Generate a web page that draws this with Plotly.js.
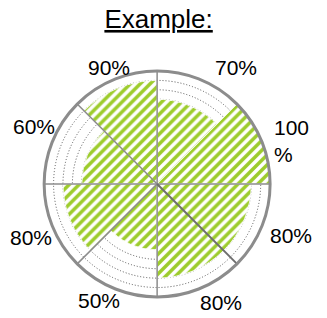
<!DOCTYPE html>
<html>
<head>
<meta charset="utf-8">
<script src="https://cdn.plot.ly/plotly-3.0.1.min.js"></script>
<style>html,body{margin:0;padding:0;background:#fff;}#chart{width:327px;height:318px;}</style>
</head>
<body>
<div id="chart"></div>
<script>
// Sector centres (degrees, counter-clockwise from east)
const sectorAngles = [22.5, 67.5, 112.5, 157.5, 202.5, 247.5, 292.5, 337.5];
// Values (%)
const values = [100, 70, 90, 60, 80, 50, 80, 80];
// Labels around the chart
const labels = ["100<br>%", "70%", "90%", "60%", "80%", "50%", "80%", "80%"];
// Spoke angles: drawn under the bars / over the bars
const spokesUnder = [135, 225];
const spokesOver = [0, 90, 180, 270, 315];
const gridValues = [60, 70, 80, 90];
const rMin = -20, rMax = 100;

// label placement (layout only), pixel centres in the 327x318 page
const labelPos = [[291, 141], [236, 67], [109, 67], [34, 126], [31, 238], [99, 300], [221, 302], [291, 236]];
const W = 327, H = 318;

function spoke(a) {
  return {
    type: 'scatterpolar',
    mode: 'lines',
    theta: [a, a],
    r: [rMin, rMax],
    line: {color: a === 315 ? '#6e6e6e' : '#8c8c8c', width: a === 315 ? 2 : 1.5},
    hoverinfo: 'none',
    showlegend: false
  };
}

const traces = [];
spokesUnder.forEach(a => traces.push(spoke(a)));
traces.push({
  type: 'barpolar',
  theta: sectorAngles,
  r: values.map(v => v - rMin),
  base: rMin,
  width: 45,
  marker: {
    color: '#ffffff',
    line: {color: '#ffffff', width: 0.8},
    pattern: {shape: '/', fgcolor: '#9dcc2c', bgcolor: '#ffffff', size: 7, solidity: 0.5}
  },
  hoverinfo: 'none',
  showlegend: false
});
spokesOver.forEach(a => traces.push(spoke(a)));

const annotations = labels.map((t, i) => ({
  text: t,
  xref: 'paper', yref: 'paper',
  x: labelPos[i][0] / W, y: 1 - labelPos[i][1] / H,
  xanchor: 'center', yanchor: 'middle',
  align: 'left',
  showarrow: false,
  font: {family: 'Liberation Sans, Arial, sans-serif', size: 21, color: '#000'}
}));

const layout = {
  width: W, height: H,
  margin: {l: 0, r: 0, t: 0, b: 0},
  paper_bgcolor: '#ffffff',
  showlegend: false,
  title: {
    text: '<u>Example:</u>',
    font: {family: 'Liberation Sans, Arial, sans-serif', size: 26, color: '#000'},
    x: 0.485, xanchor: 'center', y: 0.912, yanchor: 'bottom'
  },
  annotations: annotations,
  polar: {
    domain: {x: [0.135, 0.826], y: [0.066, 0.777]},
    bgcolor: '#ffffff',
    radialaxis: {
      range: [rMin, rMax],
      tickvals: gridValues,
      showticklabels: false,
      ticks: '',
      showline: false,
      gridcolor: '#555555',
      gridwidth: 1,
      griddash: '1px,2px',
      layer: 'below traces'
    },
    angularaxis: {
      rotation: 0,
      direction: 'counterclockwise',
      tickvals: sectorAngles,
      showticklabels: false,
      ticks: '',
      showgrid: false,
      showline: true,
      linecolor: '#8c8c8c',
      linewidth: 3,
      layer: 'above traces'
    }
  }
};

Plotly.newPlot('chart', traces, layout, {displayModeBar: false, staticPlot: true});
</script>
</body>
</html>
